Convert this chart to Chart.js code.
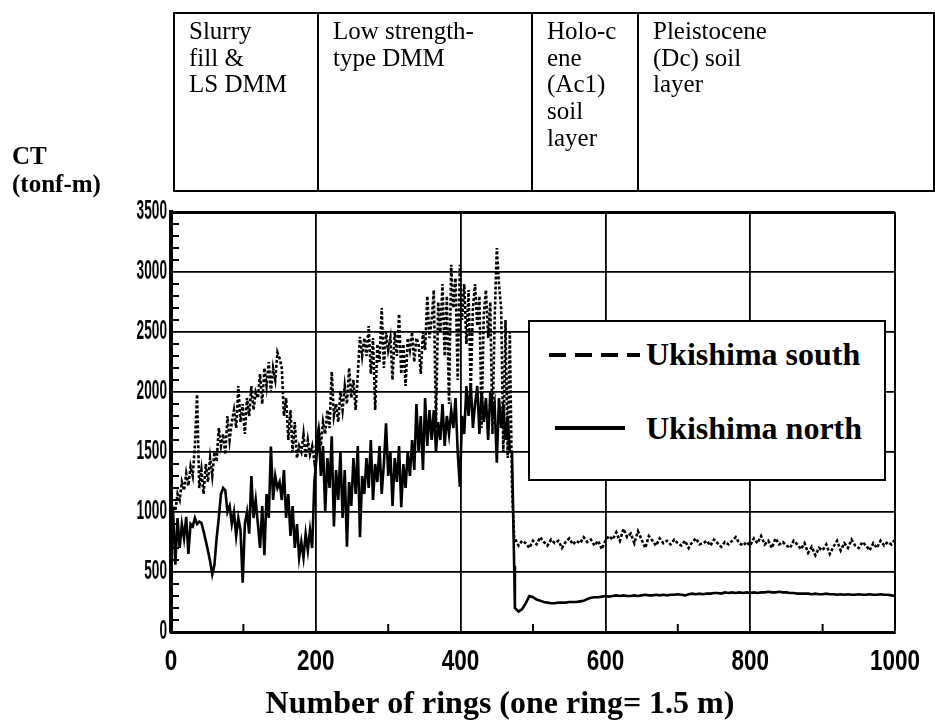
<!DOCTYPE html>
<html>
<head>
<meta charset="utf-8">
<script src="https://cdn.jsdelivr.net/npm/chart.js@4/dist/chart.umd.min.js"></script>
<style>
  html, body { margin: 0; padding: 0; background: #fff; }
  #wrap { position: relative; width: 935px; height: 728px; overflow: hidden; }
  #c { position: absolute; left: 0; top: 0; }
  .serif { font-family: 'Liberation Serif', 'Times New Roman', serif; color: #000; }
  #layers { position: absolute; left: 173px; top: 12px; border-collapse: collapse; }
  #layers td { border: 2px solid #000; vertical-align: top; padding: 4px 0 0 14px; font-size: 25px; line-height: 26.7px; height: 178px; box-sizing: border-box; }
  #ct { position: absolute; left: 12px; top: 142px; font-weight: bold; font-size: 25px; line-height: 28px; }
  #legend { position: absolute; left: 528px; top: 320px; width: 358px; height: 161px; box-sizing: border-box; border: 2px solid #000; background: #fff; }
  #legend .row { position: absolute; left: 0; height: 40px; width: 100%; }
  #legend svg { position: absolute; left: 0; top: 0; }
  #legend .lab { position: absolute; left: 116px; top: 0; font-weight: bold; font-size: 32px; line-height: 40px; white-space: nowrap; }
</style>
</head>
<body>
<div id="wrap">
  <canvas id="c" width="935" height="728"></canvas>
  <table id="layers" class="serif">
    <tr>
      <td style="width:144px">Slurry<br>fill &amp;<br>LS DMM</td>
      <td style="width:214px">Low strength-<br>type DMM</td>
      <td style="width:106px">Holo-c<br>ene<br>(Ac1)<br>soil<br>layer</td>
      <td style="width:296px">Pleistocene<br>(Dc) soil<br>layer</td>
    </tr>
  </table>
  <div id="ct" class="serif">CT<br>(tonf-m)</div>
  <div id="legend" class="serif">
    <div class="row" style="top:12px">
      <svg width="116" height="40"><line x1="19" y1="21" x2="110" y2="21" stroke="#000" stroke-width="4" stroke-dasharray="17,9"/></svg>
      <div class="lab">Ukishima south</div>
    </div>
    <div class="row" style="top:86px">
      <svg width="116" height="40"><line x1="25" y1="20" x2="95" y2="20" stroke="#000" stroke-width="4"/></svg>
      <div class="lab">Ukishima north</div>
    </div>
  </div>
</div>
<script>
// ---- categories: ring numbers ----
const ringsDense = [
  0,3,6,9,12,15,18,21,24,27,
  30,33,36,39,42,45,48,51,54,57,
  60,63,66,69,72,75,78,81,84,87,
  90,93,96,99,102,105,108,111,114,117,
  120,123,126,129,132,135,138,141,144,147,
  150,153,156,159,162,165,168,171,174,177,
  180,183,186,189,192,195,198,201,204,207,
  210,213,216,219,222,225,228,231,234,237,
  240,243,246,249,252,255,258,261,264,267,
  270,273,276,279,282,285,288,291,294,297,
  300,303,306,309,312,315,318,321,324,327,
  330,333,336,339,342,345,348,351,354,357,
  360,363,366,369,372,375,378,381,384,387,
  390,393,396,399,402,405,408,411,414,417,
  420,423,426,429,432,435,438,441,444,447,
  450,453,456,459,462,465,468,471,474
];
const ringsFlat = [
  475,480,485,490,495,500,505,510,515,520,
  525,530,535,540,545,550,555,560,565,570,
  575,580,585,590,595,600,605,610,615,620,
  625,630,635,640,645,650,655,660,665,670,
  675,680,685,690,695,700,705,710,715,720,
  725,730,735,740,745,750,755,760,765,770,
  775,780,785,790,795,800,805,810,815,820,
  825,830,835,840,845,850,855,860,865,870,
  875,880,885,890,895,900,905,910,915,920,
  925,930,935,940,945,950,955,960,965,970,
  975,980,985,990,995,1000
];

// ---- series: CT (tonf-m) ----
const southDense = [
  980,1050,1010,1150,1100,1250,1180,1320,1220,1380,
  1300,1550,1980,1200,1350,1150,1400,1250,1450,1300,
  1500,1420,1700,1550,1650,1480,1800,1600,1750,1850,
  1700,2050,1750,1900,1650,1950,1800,2050,1850,2000,
  1950,2150,1900,2200,2050,2250,2000,2200,2100,2330,
  2280,2200,1800,1950,1600,1850,1500,1750,1450,1550,
  1500,1650,1450,1600,1480,1550,1420,1600,1700,1550,
  1750,1650,1850,1700,2170,1800,1900,1750,2000,1850,
  2050,1900,2200,1950,2100,1850,2150,2460,2300,2450,
  2300,2550,2150,2450,1850,2400,2250,2700,2200,2500,
  2350,2450,2100,2500,2300,2650,2150,2400,2050,2450,
  2350,2500,2250,2450,2400,2150,2500,2350,2800,2450,
  2600,2850,1700,2750,2500,2900,2300,2800,1900,3060,
  2700,2950,2100,3060,2600,2900,2400,2850,2000,2700,
  2900,2550,2800,1700,2650,2850,2450,2750,1650,2600,
  3200,2900,2700,1500,2600,1450,2500,1200,780
];
const southFlat = [
  780,720,760,740,700,760,730,790,750,720,
  770,740,760,700,750,780,730,760,740,790,
  750,770,720,760,690,760,800,770,830,760,
  860,790,820,740,840,770,700,800,760,720,
  780,740,760,730,770,740,720,760,700,750,
  780,730,740,760,720,770,740,710,750,730,
  760,790,740,720,750,720,780,740,800,730,
  760,700,780,730,750,720,700,760,730,690,
  740,660,710,640,700,680,730,650,710,760,
  680,740,700,770,720,700,750,720,680,740,
  700,760,720,750,730,770
];
const northDense = [
  900,980,560,950,700,900,780,960,650,900,
  880,950,900,920,910,840,760,680,590,480,
  560,780,950,1150,1200,1180,1000,1050,900,1000,
  800,950,850,410,900,1000,820,1300,950,1100,
  900,700,1050,640,1150,950,1545,1100,1300,1200,
  1250,1100,1350,950,1150,800,1050,700,900,620,
  750,620,820,680,850,700,1250,1450,1700,1300,
  1550,1000,1450,1200,1630,880,1350,1100,1500,950,
  1350,710,1250,1050,1450,1150,1550,790,1300,1150,
  1450,1200,1600,1100,1400,1250,1550,1150,1400,1740,
  1300,1500,1050,1450,1250,1550,1040,1400,1200,1500,
  1300,1600,1350,1900,1500,1800,1350,1950,1550,1850,
  1600,1850,1500,1750,1600,1900,1550,1800,1650,1850,
  1700,1950,1500,1210,1800,1650,2050,1800,2075,1700,
  1900,2050,1650,2000,1750,1950,1600,2000,1800,1900,
  1410,1950,1700,1900,1600,1800,1500,1500,550
];
const northFlat = [
  200,170,190,240,300,290,270,260,250,245,
  240,240,245,245,245,250,250,250,255,260,
  275,285,290,290,295,300,295,300,305,300,
  305,300,300,305,300,305,310,305,305,310,
  305,310,305,310,310,315,310,305,315,320,
  315,320,315,320,320,325,325,320,330,325,
  330,325,330,325,330,325,330,325,330,330,
  335,330,330,335,330,330,325,325,320,320,
  320,320,315,320,315,315,320,315,315,310,
  315,310,315,310,310,315,310,310,315,310,
  310,315,310,310,305,300
];

// ---- tick labels ----
const xTickLabels = ['0','200','400','600','800','1000'];
const yTickLabels = ['0','500','1000','1500','2000','2500','3000','3500'];
const seriesNames = ['Ukishima south', 'Ukishima north'];
const xTitle = 'Number of rings (one ring= 1.5 m)';

function pairs(xs, ys) { return xs.map((x, i) => ({ x: x, y: ys[i] })); }
const rings = ringsDense.concat(ringsFlat);
const southData = pairs(rings, southDense.concat(southFlat));
const northData = pairs(rings, northDense.concat(northFlat));

const sansBold = "'Liberation Sans', Arial, sans-serif";

// narrow (condensed) tick glyphs: give the library's own tick text a maxWidth
const condenseTicks = {
  id: 'condenseTicks',
  beforeDraw(chart) {
    const per = { x: 12.5, y: 7.6 };
    for (const id of ['x', 'y']) {
      const sc = chart.scales[id];
      if (!sc || typeof sc.getLabelItems !== 'function') continue;
      sc.getLabelItems(chart.chartArea).forEach((it) => {
        it.options.maxWidth = String(it.label).length * per[id];
      });
    }
  }
};

const extras = {
  id: 'extras',
  afterDraw(chart) {
    const { ctx, scales: { x, y } } = chart;
    ctx.save();
    ctx.strokeStyle = '#000';
    ctx.lineWidth = 2;
    // minor ticks (inside)
    for (let v = 100; v < 3500; v += 100) {
      if (v % 500 === 0) continue;
      const py = y.getPixelForValue(v);
      ctx.beginPath(); ctx.moveTo(x.left, py); ctx.lineTo(x.left + 8, py); ctx.stroke();
    }
    for (let v = 100; v < 1000; v += 200) {
      const px = x.getPixelForValue(v);
      ctx.beginPath(); ctx.moveTo(px, y.bottom); ctx.lineTo(px, y.bottom - 8); ctx.stroke();
    }
    // x axis title
    ctx.fillStyle = '#000';
    ctx.font = "bold 32px 'Liberation Serif', 'Times New Roman', serif";
    ctx.textAlign = 'center';
    ctx.textBaseline = 'middle';
    ctx.fillText(xTitle, 500, 705);
    ctx.restore();
  }
};

new Chart(document.getElementById('c'), {
  type: 'line',
  data: {
    datasets: [
      { label: seriesNames[0], data: southData, borderColor: '#000', borderWidth: 2.6, borderDash: [3, 2], pointRadius: 0, tension: 0, fill: false },
      { label: seriesNames[1], data: northData, borderColor: '#000', borderWidth: 2.6, pointRadius: 0, tension: 0, fill: false }
    ]
  },
  options: {
    responsive: false,
    animation: false,
    devicePixelRatio: 1,
    layout: { padding: { left: 0, right: 40, top: 212, bottom: 0 } },
    plugins: { legend: { display: false }, tooltip: { enabled: false } },
    scales: {
      x: {
        type: 'linear', min: 0, max: 1000,
        afterFit(s) { s.height = 96; s.paddingLeft = 0; s.paddingRight = 0; },
        ticks: { stepSize: 200, color: '#000', font: { family: sansBold, size: 29, weight: 'bold' }, padding: 13, maxRotation: 0, autoSkip: false,
                 callback: (v) => xTickLabels[Math.round(v / 200)] },
        grid: { color: '#000', lineWidth: (c) => (c.tick && c.tick.value === 1000 ? 2 : 1.8), drawTicks: false },
        border: { display: true, color: '#000', width: 3 }
      },
      y: {
        min: 0, max: 3500,
        afterFit(s) { s.width = 171; s.paddingTop = 0; s.paddingBottom = 0; },
        ticks: { stepSize: 500, color: '#000', font: { family: sansBold, size: 27, weight: 'bold' }, padding: 4, autoSkip: false,
                 callback: (v) => yTickLabels[Math.round(v / 500)] },
        grid: { color: '#000', lineWidth: (c) => (c.tick && c.tick.value === 3500 ? 3 : 1.8), drawTicks: false },
        border: { display: true, color: '#000', width: 4 }
      }
    }
  },
  plugins: [condenseTicks, extras]
});
</script>
</body>
</html>
